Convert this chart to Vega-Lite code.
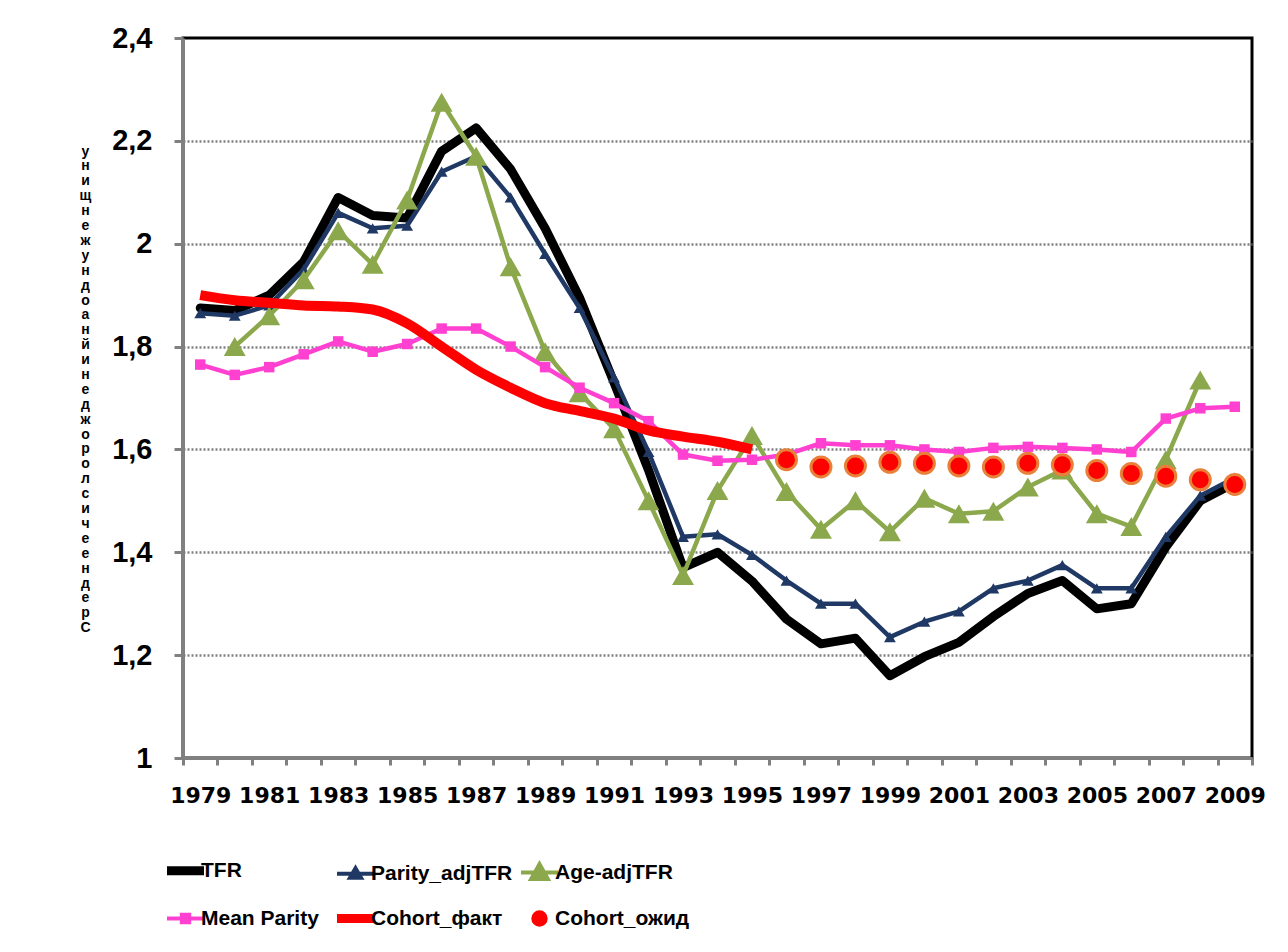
{
  "$schema": "https://vega.github.io/schema/vega-lite/v6.json",
  "autosize": "none",
  "width": 1069,
  "height": 720,
  "padding": {"left": 183, "top": 38, "right": 36, "bottom": 194},
  "background": "white",
  "config": {
    "view": {"stroke": "black", "strokeWidth": 3},
    "axis": {"domainColor": "#808080", "domainWidth": 3, "tickColor": "#808080", "tickWidth": 3, "labelColor": "black"}
  },
  "data": {"values": [
    {"year": 1979, "series": "TFR", "value": 1.875},
    {"year": 1980, "series": "TFR", "value": 1.87},
    {"year": 1981, "series": "TFR", "value": 1.9},
    {"year": 1982, "series": "TFR", "value": 1.965},
    {"year": 1983, "series": "TFR", "value": 2.09},
    {"year": 1984, "series": "TFR", "value": 2.055},
    {"year": 1985, "series": "TFR", "value": 2.05},
    {"year": 1986, "series": "TFR", "value": 2.18},
    {"year": 1987, "series": "TFR", "value": 2.225},
    {"year": 1988, "series": "TFR", "value": 2.145},
    {"year": 1989, "series": "TFR", "value": 2.03},
    {"year": 1990, "series": "TFR", "value": 1.895},
    {"year": 1991, "series": "TFR", "value": 1.73},
    {"year": 1992, "series": "TFR", "value": 1.56},
    {"year": 1993, "series": "TFR", "value": 1.37},
    {"year": 1994, "series": "TFR", "value": 1.4},
    {"year": 1995, "series": "TFR", "value": 1.344},
    {"year": 1996, "series": "TFR", "value": 1.27},
    {"year": 1997, "series": "TFR", "value": 1.222},
    {"year": 1998, "series": "TFR", "value": 1.233},
    {"year": 1999, "series": "TFR", "value": 1.16},
    {"year": 2000, "series": "TFR", "value": 1.197},
    {"year": 2001, "series": "TFR", "value": 1.225},
    {"year": 2002, "series": "TFR", "value": 1.275},
    {"year": 2003, "series": "TFR", "value": 1.32},
    {"year": 2004, "series": "TFR", "value": 1.345},
    {"year": 2005, "series": "TFR", "value": 1.29},
    {"year": 2006, "series": "TFR", "value": 1.3},
    {"year": 2007, "series": "TFR", "value": 1.41},
    {"year": 2008, "series": "TFR", "value": 1.5},
    {"year": 2009, "series": "TFR", "value": 1.535},
    {"year": 1979, "series": "Parity_adjTFR", "value": 1.865},
    {"year": 1980, "series": "Parity_adjTFR", "value": 1.86},
    {"year": 1981, "series": "Parity_adjTFR", "value": 1.88},
    {"year": 1982, "series": "Parity_adjTFR", "value": 1.95},
    {"year": 1983, "series": "Parity_adjTFR", "value": 2.06},
    {"year": 1984, "series": "Parity_adjTFR", "value": 2.03},
    {"year": 1985, "series": "Parity_adjTFR", "value": 2.035},
    {"year": 1986, "series": "Parity_adjTFR", "value": 2.14},
    {"year": 1987, "series": "Parity_adjTFR", "value": 2.17},
    {"year": 1988, "series": "Parity_adjTFR", "value": 2.09},
    {"year": 1989, "series": "Parity_adjTFR", "value": 1.98},
    {"year": 1990, "series": "Parity_adjTFR", "value": 1.875},
    {"year": 1991, "series": "Parity_adjTFR", "value": 1.74},
    {"year": 1992, "series": "Parity_adjTFR", "value": 1.595},
    {"year": 1993, "series": "Parity_adjTFR", "value": 1.43},
    {"year": 1994, "series": "Parity_adjTFR", "value": 1.435},
    {"year": 1995, "series": "Parity_adjTFR", "value": 1.395},
    {"year": 1996, "series": "Parity_adjTFR", "value": 1.345},
    {"year": 1997, "series": "Parity_adjTFR", "value": 1.3},
    {"year": 1998, "series": "Parity_adjTFR", "value": 1.3},
    {"year": 1999, "series": "Parity_adjTFR", "value": 1.235},
    {"year": 2000, "series": "Parity_adjTFR", "value": 1.265},
    {"year": 2001, "series": "Parity_adjTFR", "value": 1.285},
    {"year": 2002, "series": "Parity_adjTFR", "value": 1.33},
    {"year": 2003, "series": "Parity_adjTFR", "value": 1.345},
    {"year": 2004, "series": "Parity_adjTFR", "value": 1.375},
    {"year": 2005, "series": "Parity_adjTFR", "value": 1.33},
    {"year": 2006, "series": "Parity_adjTFR", "value": 1.33},
    {"year": 2007, "series": "Parity_adjTFR", "value": 1.43},
    {"year": 2008, "series": "Parity_adjTFR", "value": 1.51},
    {"year": 2009, "series": "Parity_adjTFR", "value": 1.545},
    {"year": 1980, "series": "Age-adjTFR", "value": 1.8},
    {"year": 1981, "series": "Age-adjTFR", "value": 1.86},
    {"year": 1982, "series": "Age-adjTFR", "value": 1.93},
    {"year": 1983, "series": "Age-adjTFR", "value": 2.025},
    {"year": 1984, "series": "Age-adjTFR", "value": 1.96},
    {"year": 1985, "series": "Age-adjTFR", "value": 2.085},
    {"year": 1986, "series": "Age-adjTFR", "value": 2.275},
    {"year": 1987, "series": "Age-adjTFR", "value": 2.17},
    {"year": 1988, "series": "Age-adjTFR", "value": 1.955},
    {"year": 1989, "series": "Age-adjTFR", "value": 1.79},
    {"year": 1990, "series": "Age-adjTFR", "value": 1.71},
    {"year": 1991, "series": "Age-adjTFR", "value": 1.64},
    {"year": 1992, "series": "Age-adjTFR", "value": 1.5},
    {"year": 1993, "series": "Age-adjTFR", "value": 1.355},
    {"year": 1994, "series": "Age-adjTFR", "value": 1.52},
    {"year": 1995, "series": "Age-adjTFR", "value": 1.627},
    {"year": 1996, "series": "Age-adjTFR", "value": 1.518},
    {"year": 1997, "series": "Age-adjTFR", "value": 1.445},
    {"year": 1998, "series": "Age-adjTFR", "value": 1.5},
    {"year": 1999, "series": "Age-adjTFR", "value": 1.44},
    {"year": 2000, "series": "Age-adjTFR", "value": 1.505},
    {"year": 2001, "series": "Age-adjTFR", "value": 1.475},
    {"year": 2002, "series": "Age-adjTFR", "value": 1.48},
    {"year": 2003, "series": "Age-adjTFR", "value": 1.527},
    {"year": 2004, "series": "Age-adjTFR", "value": 1.56},
    {"year": 2005, "series": "Age-adjTFR", "value": 1.475},
    {"year": 2006, "series": "Age-adjTFR", "value": 1.45},
    {"year": 2007, "series": "Age-adjTFR", "value": 1.58},
    {"year": 2008, "series": "Age-adjTFR", "value": 1.735},
    {"year": 1979, "series": "Mean Parity", "value": 1.765},
    {"year": 1980, "series": "Mean Parity", "value": 1.745},
    {"year": 1981, "series": "Mean Parity", "value": 1.76},
    {"year": 1982, "series": "Mean Parity", "value": 1.785},
    {"year": 1983, "series": "Mean Parity", "value": 1.81},
    {"year": 1984, "series": "Mean Parity", "value": 1.79},
    {"year": 1985, "series": "Mean Parity", "value": 1.805},
    {"year": 1986, "series": "Mean Parity", "value": 1.835},
    {"year": 1987, "series": "Mean Parity", "value": 1.835},
    {"year": 1988, "series": "Mean Parity", "value": 1.8},
    {"year": 1989, "series": "Mean Parity", "value": 1.76},
    {"year": 1990, "series": "Mean Parity", "value": 1.72},
    {"year": 1991, "series": "Mean Parity", "value": 1.69},
    {"year": 1992, "series": "Mean Parity", "value": 1.655},
    {"year": 1993, "series": "Mean Parity", "value": 1.59},
    {"year": 1994, "series": "Mean Parity", "value": 1.578},
    {"year": 1995, "series": "Mean Parity", "value": 1.58},
    {"year": 1996, "series": "Mean Parity", "value": 1.59},
    {"year": 1997, "series": "Mean Parity", "value": 1.612},
    {"year": 1998, "series": "Mean Parity", "value": 1.608},
    {"year": 1999, "series": "Mean Parity", "value": 1.608},
    {"year": 2000, "series": "Mean Parity", "value": 1.6},
    {"year": 2001, "series": "Mean Parity", "value": 1.595},
    {"year": 2002, "series": "Mean Parity", "value": 1.603},
    {"year": 2003, "series": "Mean Parity", "value": 1.605},
    {"year": 2004, "series": "Mean Parity", "value": 1.603},
    {"year": 2005, "series": "Mean Parity", "value": 1.6},
    {"year": 2006, "series": "Mean Parity", "value": 1.595},
    {"year": 2007, "series": "Mean Parity", "value": 1.66},
    {"year": 2008, "series": "Mean Parity", "value": 1.68},
    {"year": 2009, "series": "Mean Parity", "value": 1.683},
    {"year": 1979, "series": "Cohort_факт", "value": 1.9},
    {"year": 1980, "series": "Cohort_факт", "value": 1.89},
    {"year": 1981, "series": "Cohort_факт", "value": 1.885},
    {"year": 1982, "series": "Cohort_факт", "value": 1.88},
    {"year": 1983, "series": "Cohort_факт", "value": 1.878},
    {"year": 1984, "series": "Cohort_факт", "value": 1.872},
    {"year": 1985, "series": "Cohort_факт", "value": 1.845},
    {"year": 1986, "series": "Cohort_факт", "value": 1.8},
    {"year": 1987, "series": "Cohort_факт", "value": 1.755},
    {"year": 1988, "series": "Cohort_факт", "value": 1.72},
    {"year": 1989, "series": "Cohort_факт", "value": 1.69},
    {"year": 1990, "series": "Cohort_факт", "value": 1.675},
    {"year": 1991, "series": "Cohort_факт", "value": 1.66},
    {"year": 1992, "series": "Cohort_факт", "value": 1.637},
    {"year": 1993, "series": "Cohort_факт", "value": 1.625},
    {"year": 1994, "series": "Cohort_факт", "value": 1.615},
    {"year": 1995, "series": "Cohort_факт", "value": 1.6},
    {"year": 1996, "series": "Cohort_ожид", "value": 1.58},
    {"year": 1997, "series": "Cohort_ожид", "value": 1.566},
    {"year": 1998, "series": "Cohort_ожид", "value": 1.568},
    {"year": 1999, "series": "Cohort_ожид", "value": 1.575},
    {"year": 2000, "series": "Cohort_ожид", "value": 1.573},
    {"year": 2001, "series": "Cohort_ожид", "value": 1.568},
    {"year": 2002, "series": "Cohort_ожид", "value": 1.566},
    {"year": 2003, "series": "Cohort_ожид", "value": 1.573},
    {"year": 2004, "series": "Cohort_ожид", "value": 1.57},
    {"year": 2005, "series": "Cohort_ожид", "value": 1.559},
    {"year": 2006, "series": "Cohort_ожид", "value": 1.553},
    {"year": 2007, "series": "Cohort_ожид", "value": 1.548},
    {"year": 2008, "series": "Cohort_ожид", "value": 1.541},
    {"year": 2009, "series": "Cohort_ожид", "value": 1.532}
  ]},
  "encoding": {
    "x": {
      "field": "year", "type": "ordinal", "bandPosition": 0.5,
      "scale": {"type": "band", "paddingInner": 0, "paddingOuter": 0},
      "axis": {
        "title": null, "grid": false, "labelAngle": 0,
        "labelExpr": "datum.value % 2 == 1 ? datum.label : ''",
        "labelFont": "DejaVu Sans", "labelFontWeight": "bold", "labelFontSize": 22,
        "labelOverlap": false, "tickBand": "extent", "tickSize": 7,
        "labelPadding": 20, "labelBaseline": "top"
      }
    },
    "y": {
      "field": "value", "type": "quantitative",
      "scale": {"domain": [1, 2.4], "zero": false, "nice": false},
      "axis": {
        "values": [1, 1.2, 1.4, 1.6, 1.8, 2, 2.2, 2.4],
        "grid": true, "gridColor": "#808080", "gridDash": [2, 2], "gridWidth": 2.5,
        "gridOpacity": {"condition": {"test": "datum.value > 2.39", "value": 0}, "value": 1},
        "tickSize": 9, "labelPadding": 22,
        "labelFont": "Liberation Sans", "labelFontWeight": "bold", "labelFontSize": 29,
        "labelExpr": "replace(format(datum.value, '.1~f'), '.', ',')",
        "title": ["у","н","и","щ","н","е","ж","у","н","д","о","а","н","й","и","н","е","д","ж","о","р","о","л","с","и","ч","е","е","н","д","е","р","С"],
        "titleAngle": 0, "titleX": -98, "titleY": 106, "titleAlign": "center", "titleBaseline": "top",
        "titleFont": "Liberation Sans", "titleFontWeight": "bold", "titleFontSize": 14, "titleLineHeight": 14.9, "titleColor": "black"
      }
    },
    "color": {
      "field": "series", "type": "nominal",
      "scale": {
        "domain": ["TFR", "Parity_adjTFR", "Age-adjTFR", "Mean Parity", "Cohort_факт", "Cohort_ожид"],
        "range": ["#000000", "#1F3864", "#8CA84C", "#FF40D0", "#FF0000", "#FF0000"]
      },
      "legend": {
        "orient": "none", "legendX": -8, "legendY": 822, "direction": "horizontal", "padding": 0,
        "title": null, "columns": 3, "columnPadding": 0, "rowPadding": 11,
        "symbolSize": 1369, "labelOffset": 5, "labelLimit": 0,
        "labelFont": "Liberation Sans", "labelFontWeight": "bold", "labelFontSize": 21, "labelColor": "black",
        "encode": {
          "symbols": {
            "update": {
              "shape": {"signal": "datum.value === 'TFR' || datum.value === 'Cohort_факт' ? 'stroke' : datum.value === 'Parity_adjTFR' ? 'M-1,0H1M-0.3,0.22L0,-0.3L0.3,0.22Z' : datum.value === 'Age-adjTFR' ? 'M-1,0H1M-0.45,0.35L0,-0.45L0.45,0.35Z' : datum.value === 'Mean Parity' ? 'M-1,0H1M-0.2,-0.2H0.2V0.2H-0.2Z' : 'circle'"},
              "strokeWidth": {"signal": "datum.value === 'TFR' || datum.value === 'Cohort_факт' ? 9 : datum.value === 'Cohort_ожид' ? 3 : 4"},
              "stroke": {"signal": "datum.value === 'Cohort_ожид' ? '#E8803A' : scale('color', datum.value)"},
              "fill": {"signal": "scale('color', datum.value)"},
              "size": {"signal": "datum.value === 'Cohort_ожид' ? 180 : 1369"},
              "opacity": {"value": 1}
            }
          }
        }
      }
    }
  },
  "layer": [
    {
      "transform": [{"filter": "datum.series === 'TFR'"}],
      "mark": {"type": "line", "strokeWidth": 9, "strokeJoin": "round", "strokeCap": "round"}
    },
    {
      "transform": [{"filter": "datum.series === 'Parity_adjTFR'"}],
      "mark": {"type": "line", "strokeWidth": 4.5, "strokeJoin": "round", "point": {"shape": "triangle-up", "size": 140, "filled": true, "opacity": 1}}
    },
    {
      "transform": [{"filter": "datum.series === 'Age-adjTFR'"}],
      "mark": {"type": "line", "strokeWidth": 4.5, "strokeJoin": "round", "point": {"shape": "triangle-up", "size": 480, "filled": true, "opacity": 1}}
    },
    {
      "transform": [{"filter": "datum.series === 'Mean Parity'"}],
      "mark": {"type": "line", "strokeWidth": 4.5, "strokeJoin": "round", "point": {"shape": "square", "size": 110, "filled": true, "opacity": 1}}
    },
    {
      "transform": [{"filter": "datum.series === 'Cohort_факт'"}],
      "mark": {"type": "line", "strokeWidth": 10, "interpolate": "monotone", "strokeCap": "butt"}
    },
    {
      "transform": [{"filter": "datum.series === 'Cohort_ожид'"}],
      "mark": {"type": "point", "shape": "circle", "size": 400, "filled": true, "opacity": 1, "stroke": "#E8803A", "strokeWidth": 3}
    }
  ]
}
